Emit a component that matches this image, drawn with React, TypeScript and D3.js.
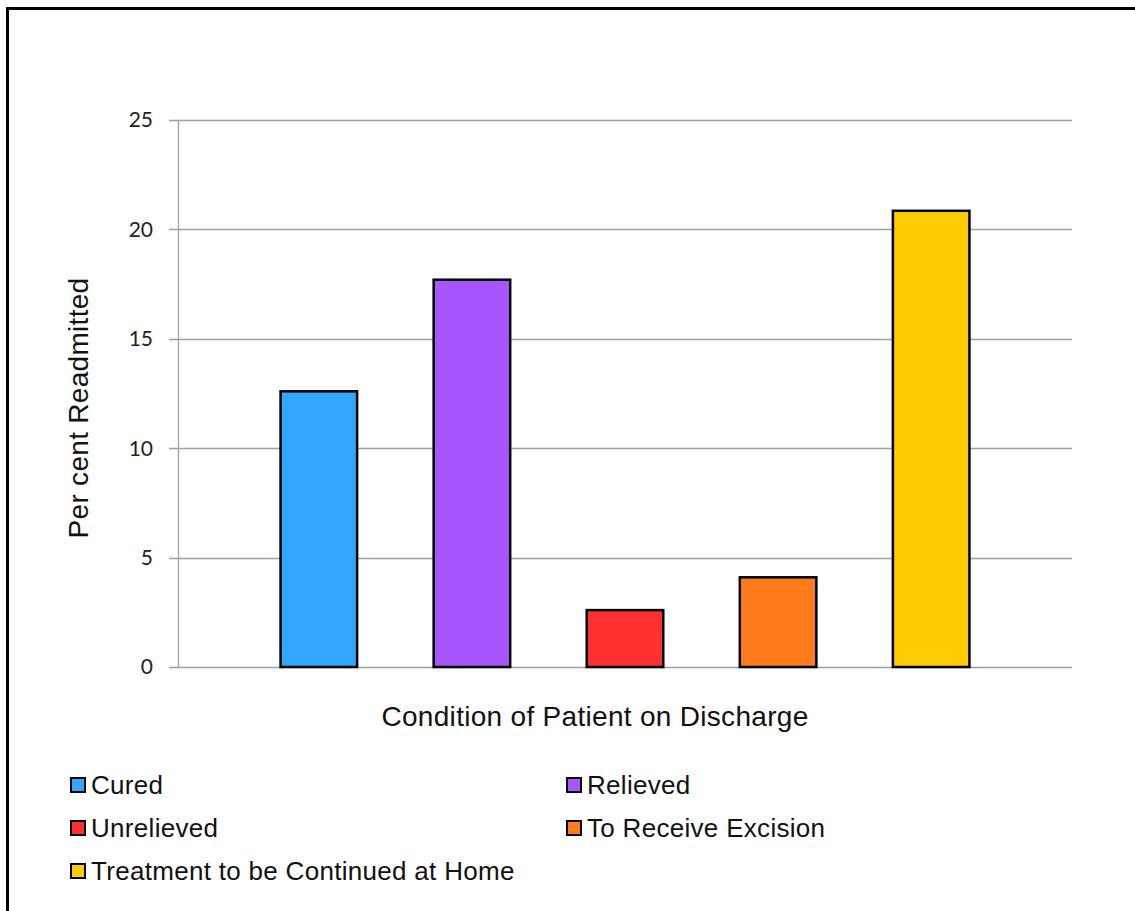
import React, { useRef, useEffect } from 'react';
import * as d3 from 'd3';

// chart data
const categories = ['Cured', 'Relieved', 'Unrelieved', 'To Receive Excision', 'Treatment to be Continued at Home'];
const values = [12.6, 17.7, 2.6, 4.1, 20.85];
const colors = ['#33a6ff', '#a855ff', '#ff3030', '#ff7b1c', '#ffcc00'];
const yTicks = [0, 5, 10, 15, 20, 25];

const W = 1135;
const H = 911;

const App: React.FC = () => {
  const svgRef = useRef<SVGSVGElement>(null);

  useEffect(() => {
    if (!svgRef.current) return;
    const svg = d3.select(svgRef.current);
    svg.selectAll('*').remove();

    const margin = { left: 178, right: 63, top: 120, bottom: 244 };
    const plotW = W - margin.left - margin.right;
    const plotH = H - margin.top - margin.bottom;

    // outer frame
    svg.append('rect')
      .attr('x', 7.5)
      .attr('y', 8.5)
      .attr('width', W + 20)
      .attr('height', H + 20)
      .attr('fill', 'none')
      .attr('stroke', '#000')
      .attr('stroke-width', 3);

    const g = svg.append('g').attr('transform', `translate(${margin.left},${margin.top})`);

    const x = d3.scaleBand<string>()
      .domain(categories)
      .range([0, plotW])
      .paddingInner(0.5)
      .paddingOuter(0.67);

    const y = d3.scaleLinear().domain([0, 25]).range([plotH, 0]);

    // gridlines + ticks
    g.selectAll('.grid')
      .data(yTicks)
      .enter()
      .append('line')
      .attr('x1', -9)
      .attr('x2', plotW)
      .attr('y1', d => Math.round(y(d)) + 0.5)
      .attr('y2', d => Math.round(y(d)) + 0.5)
      .attr('stroke', '#a0a0a0')
      .attr('stroke-width', 1.3);

    g.append('line')
      .attr('x1', 0.5)
      .attr('x2', 0.5)
      .attr('y1', 0)
      .attr('y2', plotH)
      .attr('stroke', '#a0a0a0')
      .attr('stroke-width', 1.3);

    g.selectAll('.tick-label')
      .data(yTicks)
      .enter()
      .append('text')
      .attr('x', -25)
      .attr('y', d => y(d))
      .attr('dy', '0.35em')
      .attr('text-anchor', 'end')
      .style('font-family', 'Lato, "Open Sans", sans-serif')
      .style('font-size', '21px')
      .attr('fill', '#222')
      .text(d => d);

    // bars
    g.selectAll('.bar')
      .data(values)
      .enter()
      .append('rect')
      .attr('x', (_, i) => x(categories[i])!)
      .attr('width', x.bandwidth())
      .attr('y', d => y(d))
      .attr('height', d => plotH - y(d))
      .attr('fill', (_, i) => colors[i])
      .attr('stroke', '#000')
      .attr('stroke-width', 2.5);

    // axis titles
    svg.append('text')
      .attr('x', 595)
      .attr('y', 716)
      .attr('dy', '0.35em')
      .attr('text-anchor', 'middle')
      .style('font-family', '"Liberation Sans", Arial, sans-serif')
      .style('font-size', '28px')
      .style('letter-spacing', '0.3px')
      .attr('fill', '#111')
      .text('Condition of Patient on Discharge');

    svg.append('text')
      .attr('transform', `translate(78,408) rotate(-90)`)
      .attr('dy', '0.35em')
      .attr('text-anchor', 'middle')
      .style('font-family', '"Liberation Sans", Arial, sans-serif')
      .style('font-size', '28px')
      .style('letter-spacing', '0.3px')
      .attr('fill', '#111')
      .text('Per cent Readmitted');

    // legend
    const legend = svg.append('g');
    const items = legend.selectAll('.item')
      .data(categories)
      .enter()
      .append('g')
      .attr('transform', (_, i) => `translate(${i % 2 === 0 ? 71 : 567},${785 + Math.floor(i / 2) * 43})`);

    items.append('rect')
      .attr('x', 0)
      .attr('y', -7)
      .attr('width', 14)
      .attr('height', 14)
      .attr('fill', (_, i) => colors[i])
      .attr('stroke', '#000')
      .attr('stroke-width', 2);

    items.append('text')
      .attr('x', 20)
      .attr('y', 0)
      .attr('dy', '0.35em')
      .style('font-family', '"Liberation Sans", Arial, sans-serif')
      .style('font-size', '26px')
      .style('letter-spacing', '0.3px')
      .attr('fill', '#111')
      .text(d => d);
  }, []);

  return (
    <svg
      ref={svgRef}
      width={W}
      height={H}
      style={{ position: 'absolute', left: 0, top: 0, background: '#fff' }}
    />
  );
};

export default App;
